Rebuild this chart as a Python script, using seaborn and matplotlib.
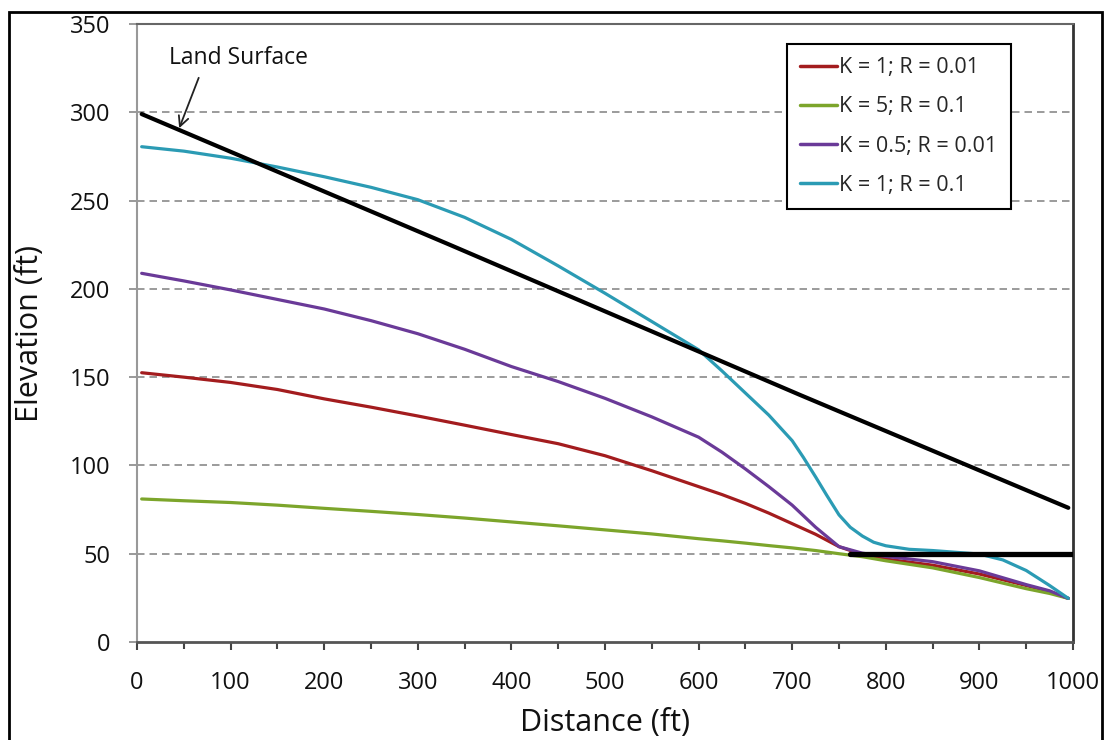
import matplotlib
matplotlib.use("Agg")
import matplotlib.pyplot as plt
from matplotlib.patches import Rectangle
from matplotlib.ticker import MultipleLocator
import numpy as np
import pandas as pd
import seaborn as sns

# ---------------- data ----------------
distance = [5, 50, 100, 150, 200, 250, 300, 350, 400, 450, 500, 550, 600, 625,
            650, 675, 700, 725, 750, 775, 800, 850, 900, 950, 975, 995]

k1_r001 = [152.5, 150, 147, 143, 137.7, 133, 128, 122.8, 117.5, 112.3, 105.5, 97, 88, 83.5,
           78.5, 73, 67, 61, 54, 49.5, 47, 43.5, 38.5, 32, 28.5, 24.7]
k5_r01 = [81, 80, 79, 77.5, 75.7, 74, 72.2, 70.2, 68, 65.8, 63.5, 61.2, 58.5, 57.3,
          56, 54.6, 53.3, 51.8, 50, 48.3, 46, 42, 36.5, 30.2, 27.5, 24.7]
k05_r001 = [208.8, 204.5, 199.4, 194, 188.6, 182, 174.6, 165.8, 156, 147.5, 138, 127.5, 116, 107.5,
            98, 88, 77.5, 65, 54, 50.3, 48.5, 45.5, 40.3, 32.5, 29, 24.7]

distance_k1_r01 = [5, 50, 100, 150, 200, 250, 300, 350, 400, 450, 500, 550, 600, 625,
                   650, 675, 700, 712, 725, 737, 750, 762, 775, 787, 800, 825, 850,
                   900, 925, 950, 975, 995]
k1_r01 = [280.5, 278, 274, 269, 263.5, 257.5, 250.5, 240.5, 228, 213, 197.5, 181.5, 165.5, 153.5,
          141, 128.5, 114, 104.5, 93.5, 83, 72, 65, 60, 56.5, 54.5, 52.5, 51.8,
          49.8, 46.5, 40.5, 32, 24.7]

series_labels = ["K = 1; R = 0.01", "K = 5; R = 0.1", "K = 0.5; R = 0.01", "K = 1; R = 0.1"]
series_colors = ["#A31C1E", "#7CA52B", "#6A3A98", "#2B9BB4"]

land_x = [5, 334, 708, 995]
land_y = [299, 225, 140, 76]

drain_x = [762, 1000]
drain_y = [50, 50]

x_ticks = [0, 100, 200, 300, 400, 500, 600, 700, 800, 900, 1000]
y_ticks = [0, 50, 100, 150, 200, 250, 300, 350]

# ---------------- build long-form table ----------------
series_x = [distance, distance, distance, distance_k1_r01]
series_y = [k1_r001, k5_r01, k05_r001, k1_r01]
frames = []
for lab, xs, ys in zip(series_labels, series_x, series_y):
    frames.append(pd.DataFrame({"Distance": xs, "Elevation": ys, "Series": lab}))
df = pd.concat(frames, ignore_index=True)
land_df = pd.DataFrame({"Distance": land_x, "Elevation": land_y})
drain_df = pd.DataFrame({"Distance": drain_x, "Elevation": drain_y})

# ---------------- style ----------------
sns.set_theme(style="white")
plt.rcParams["font.family"] = ["Open Sans", "DejaVu Sans"]

fig = plt.figure(figsize=(11.09, 7.40), dpi=100)
ax = fig.add_axes([137 / 1109, 1 - 642 / 740, (1073 - 137) / 1109, (642 - 24) / 740])

# outer frame of the picture
fig.patches.append(Rectangle((9 / 1109, -0.02), (1102 - 9) / 1109, 1 - 12 / 740 + 0.02,
                             transform=fig.transFigure, fill=False,
                             edgecolor="black", linewidth=2, zorder=0))

# grid lines
for yv in y_ticks[1:-1]:
    ax.axhline(yv, color="#8a8a8a", linestyle=(0, (4.5, 3)), linewidth=1.2, zorder=1)

palette = dict(zip(series_labels, series_colors))
sns.lineplot(data=df, x="Distance", y="Elevation", hue="Series", palette=palette,
             hue_order=series_labels, sort=False, linewidth=2.3, ax=ax, zorder=3)
sns.lineplot(data=land_df, x="Distance", y="Elevation", color="black", linewidth=3.0,
             sort=False, ax=ax, zorder=4, legend=False)
sns.lineplot(data=drain_df, x="Distance", y="Elevation", color="black", linewidth=3.8,
             sort=False, ax=ax, zorder=5, legend=False)

ax.set_xlim(0, 1000)
ax.set_ylim(0, 350)
ax.set_xticks(x_ticks)
ax.set_yticks(y_ticks)
ax.xaxis.set_minor_locator(MultipleLocator(50))

ax.tick_params(axis="x", which="major", direction="out", length=6, width=1.5,
               color="#444444", labelsize=17, pad=15, bottom=True)
ax.tick_params(axis="x", which="minor", direction="out", length=5, width=1.5,
               color="#444444", bottom=True)
ax.tick_params(axis="y", which="major", direction="out", length=6, width=1.2,
               color="#888888", labelsize=17, pad=13, left=True)
for lbl in ax.get_xticklabels() + ax.get_yticklabels():
    lbl.set_color("#111111")

ax.set_xlabel("Distance (ft)", fontsize=22, color="#111111", labelpad=9)
ax.set_ylabel("Elevation (ft)", fontsize=22, color="#111111", labelpad=18)

for side, col, lw in [("left", "#999999", 1.5), ("bottom", "#555555", 2.0),
                      ("top", "#666666", 1.5), ("right", "#333333", 2.0)]:
    ax.spines[side].set_visible(True)
    ax.spines[side].set_color(col)
    ax.spines[side].set_linewidth(lw)

# annotation
ax.text(108, 331, "Land Surface", fontsize=16.5, ha="center", va="center", color="#111111")
ax.annotate("", xy=(44, 289.5), xytext=(67, 321),
            arrowprops=dict(arrowstyle="->", color="#222222", lw=1.3, mutation_scale=18),
            zorder=6)

# legend
handles, labels = ax.get_legend_handles_labels()
leg = ax.legend(handles[:4], labels[:4], loc="upper left", bbox_to_anchor=(0.694, 0.968),
                fontsize=15.5, frameon=True, fancybox=False, framealpha=1,
                edgecolor="black", borderpad=0.62, labelspacing=0.85,
                handlelength=1.7, handletextpad=0.12, borderaxespad=0)
leg.get_frame().set_linewidth(1.5)
for line in leg.get_lines():
    line.set_linewidth(2.5)

fig.savefig("out.png", dpi=100)
